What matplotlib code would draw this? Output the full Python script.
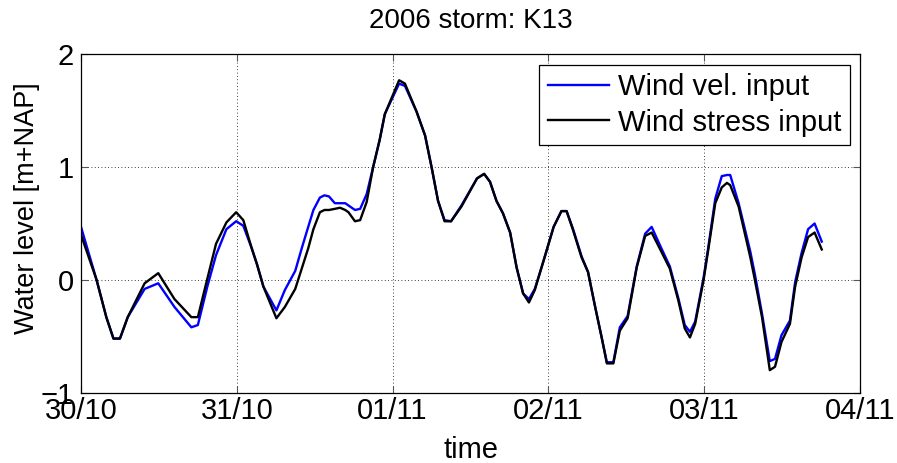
import numpy as np
import pandas as pd
import matplotlib
matplotlib.use("Agg")
import matplotlib.pyplot as plt
import matplotlib.dates as mdates

plt.rcParams['font.family'] = ['Liberation Sans', 'DejaVu Sans']

# hours since 30/10/2006 00:00, water level [m+NAP]
hours = [0, 2.4, 3.9, 5, 6, 7.2, 9.8, 11.9, 14.4, 17, 18, 19.5, 20.8, 22.4, 23.9,
         25, 26.3, 27.1, 28.1, 30.1, 31.4, 33, 34, 35, 35.8, 36.8, 37.5, 38.2,
         39.1, 39.9, 40.7, 41.2, 42.2, 43, 44, 45, 46, 46.8, 49, 49.9, 51.7, 53,
         54, 55, 56, 57, 58.6, 61, 62.1, 63, 64, 65, 66.1, 67.1, 68.1, 69, 69.9,
         71.2, 72.8, 74, 74.8, 75.8, 77.1, 78.1, 79.2, 80.2, 81, 82, 83, 84.2,
         85.6, 86.9, 87.9, 89.4, 90.7, 92, 93, 93.8, 94.6, 95.9, 96.6, 97.7,
         98.7, 99.5, 100, 101.3, 103.1, 103.8, 104.9, 106.1, 106.9, 107.9,
         109.2, 110, 111, 112, 113, 114.1]

wind_vel = [0.47, 0.0, -0.33, -0.52, -0.52, -0.33, -0.08, -0.03, -0.24, -0.42,
            -0.40, -0.05, 0.22, 0.45, 0.52, 0.48, 0.28, 0.14, -0.06, -0.27,
            -0.09, 0.08, 0.28, 0.47, 0.62, 0.73, 0.75, 0.74, 0.68, 0.68, 0.68,
            0.66, 0.62, 0.63, 0.76, 1.0, 1.24, 1.47, 1.74, 1.72, 1.49, 1.28,
            1.0, 0.70, 0.53, 0.52, 0.66, 0.90, 0.94, 0.87, 0.70, 0.59, 0.42,
            0.11, -0.12, -0.17, -0.08, 0.16, 0.47, 0.61, 0.61, 0.45, 0.21, 0.07,
            -0.24, -0.51, -0.73, -0.73, -0.42, -0.32, 0.12, 0.41, 0.47, 0.28,
            0.12, -0.16, -0.40, -0.46, -0.37, 0.02, 0.28, 0.72, 0.92, 0.93, 0.93,
            0.68, 0.25, 0.05, -0.30, -0.72, -0.70, -0.49, -0.36, -0.02, 0.24,
            0.45, 0.50, 0.34]

wind_stress = [0.40, 0.0, -0.33, -0.52, -0.52, -0.33, -0.03, 0.06, -0.17, -0.33,
               -0.33, 0.02, 0.32, 0.51, 0.60, 0.53, 0.28, 0.14, -0.06, -0.34,
               -0.24, -0.08, 0.10, 0.28, 0.45, 0.60, 0.62, 0.62, 0.63, 0.64,
               0.62, 0.60, 0.52, 0.53, 0.69, 1.0, 1.24, 1.47, 1.77, 1.74, 1.49,
               1.28, 1.0, 0.70, 0.52, 0.52, 0.65, 0.90, 0.94, 0.87, 0.70, 0.59,
               0.42, 0.11, -0.12, -0.20, -0.09, 0.16, 0.47, 0.61, 0.61, 0.44,
               0.20, 0.07, -0.24, -0.51, -0.74, -0.74, -0.45, -0.34, 0.11, 0.39,
               0.42, 0.25, 0.10, -0.18, -0.43, -0.51, -0.39, 0.0, 0.26, 0.68,
               0.82, 0.86, 0.84, 0.65, 0.20, 0.0, -0.33, -0.80, -0.77, -0.55,
               -0.39, -0.06, 0.20, 0.38, 0.42, 0.27]

start = pd.Timestamp('2006-10-30')
t = [start + pd.Timedelta(hours=h) for h in hours]

fig = plt.figure(figsize=(8.97, 4.63), dpi=100)
ax = fig.add_axes([0.0903, 0.1518, 0.8685, 0.7309])

ax.plot(t, wind_vel, color='#0000ff', lw=1.7, label='Wind vel. input')
ax.plot(t, wind_stress, color='black', lw=1.7, label='Wind stress input')

ax.set_xlim(start, start + pd.Timedelta(days=5))
ax.set_ylim(-1, 2)
ax.set_yticks([-1, 0, 1, 2])
ax.xaxis.set_major_locator(mdates.DayLocator())
ax.xaxis.set_major_formatter(mdates.DateFormatter('%d/%m'))

ax.grid(True, color='black', linestyle=(0, (1, 3)), linewidth=0.6)
ax.tick_params(direction='in', length=5, top=True, right=True,
               labelsize=21, color='#555555')
ax.tick_params(axis='x', pad=3)
ax.tick_params(axis='y', pad=5)
for s in ax.spines.values():
    s.set_linewidth(0.9)

ax.set_title('2006 storm: K13', fontsize=20, pad=19)
ax.set_xlabel('time', fontsize=21, labelpad=8)
ax.set_ylabel('Water level [m+NAP]', fontsize=19.5)
ax.yaxis.set_label_coords(-0.052, 0.545)

leg = ax.legend(loc='upper right', fontsize=21, fancybox=False, framealpha=1,
                edgecolor='black', borderpad=0.3, handlelength=2.1,
                handletextpad=0.3, labelspacing=0.25, borderaxespad=0.35)
leg.get_frame().set_linewidth(0.9)

fig.savefig('out.png', dpi=100)
